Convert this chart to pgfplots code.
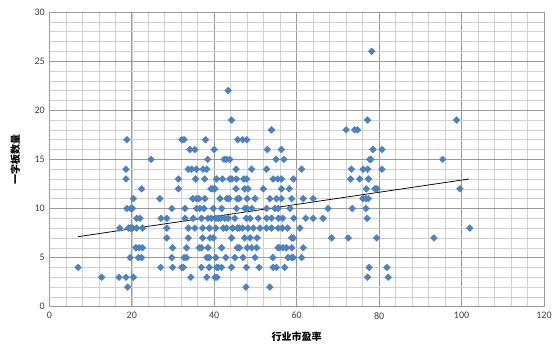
\documentclass[border=0pt]{standalone}
\usepackage{pgfplots}
\pgfplotsset{compat=1.18}
\usepackage{fontspec}
\setmainfont{Carlito}
\newfontfamily\cjk{Noto Sans CJK SC}
\definecolor{ptblue}{HTML}{4F81BD}
\definecolor{mingrid}{HTML}{D0D0D0}
\definecolor{majgrid}{HTML}{9A9A9A}
\begin{document}
\begin{tikzpicture}
\useasboundingbox (-49.3pt,-42.3pt) rectangle (508.7pt,306.7pt);
\begin{axis}[
  at={(0,0)}, anchor=south west,
  scale only axis, width=494.7pt, height=294.7pt,
  xmin=0, xmax=120, ymin=0, ymax=30,
  xtick={0,20,...,120}, ytick={0,5,...,30},
  minor xtick={0,4,...,120}, minor ytick={0,1,...,30},
  grid=both,
  minor grid style={mingrid, line width=0.5pt},
  major grid style={majgrid, line width=0.8pt},
  axis line style={majgrid, line width=0.8pt},
  tick style={draw=none},
  /pgf/number format/assume math mode=true,
  tick label style={font=\fontsize{10}{12}\selectfont, text=black!75},
  xticklabel style={yshift=-2pt},
  yticklabel style={xshift=-1pt},
  xlabel={\cjk\bfseries 行业市盈率},
  ylabel={\cjk\bfseries 一字板数量},
  label style={font=\fontsize{10.5}{12}\selectfont},
  every axis x label/.style={at={(axis description cs:0.5,0)}, anchor=center, yshift=-30pt},
  every axis y label/.style={at={(axis description cs:-0.0687,0.5)}, anchor=center, rotate=90},
]
\addplot[only marks, mark=square*, mark size=2.4pt, mark options={rotate=45, fill=ptblue, draw=ptblue}] coordinates {
(78.2,26)
(43.4,22)
(44.2,19) (77.2,19) (98.8,19)
(53.9,18) (72.0,18) (74.1,18) (74.8,18)
(18.8,17) (32.1,17) (32.7,17) (37.9,17) (45.7,17) (46.9,17) (47.9,17)
(34.1,16) (35.3,16) (40.0,16) (52.9,16) (56.3,16) (78.5,16) (80.7,16)
(24.7,15) (38.4,15) (42.4,15) (43.0,15) (43.8,15) (55.0,15) (56.9,15) (77.7,15) (78.0,15) (95.4,15)
(18.6,14) (33.7,14) (34.5,14) (35.7,14) (37.3,14) (38.2,14) (45.3,14) (49.1,14) (52.7,14) (61.2,14) (73.3,14) (76.1,14) (77.2,14) (80.7,14)
(18.6,13) (31.3,13) (35.5,13) (37.7,13) (40.6,13) (42.0,13) (43.8,13) (44.3,13) (45.4,13) (47.2,13) (47.9,13) (54.3,13) (55.4,13) (56.3,13) (59.2,13) (73.1,13) (75.3,13) (77.4,13)
(22.4,12) (31.3,12) (39.2,12) (39.7,12) (40.2,12) (45.3,12) (47.4,12) (48.2,12) (51.9,12) (56.3,12) (58.2,12) (76.9,12) (79.0,12) (79.5,12) (99.6,12)
(20.4,11) (26.8,11) (34.8,11) (35.7,11) (36.3,11) (37.7,11) (41.4,11) (43.1,11) (43.6,11) (45.6,11) (46.1,11) (48.0,11) (49.9,11) (53.5,11) (55.1,11) (56.3,11) (58.8,11) (61.6,11) (64.0,11) (76.1,11) (76.8,11) (77.4,11)
(18.8,10) (19.7,10) (20.2,10) (29.7,10) (32.9,10) (35.7,10) (36.5,10) (37.5,10) (39.8,10) (41.8,10) (45.4,10) (47.4,10) (48.0,10) (49.1,10) (52.7,10) (54.7,10) (55.5,10) (58.4,10) (67.6,10) (73.5,10) (76.8,10)
(21.2,9) (22.0,9) (27.1,9) (28.5,9) (32.9,9) (34.9,9) (36.9,9) (38.5,9) (39.3,9) (40.4,9) (41.0,9) (41.6,9) (42.6,9) (43.4,9) (45.0,9) (47.8,9) (48.7,9) (50.7,9) (52.7,9) (53.9,9) (55.6,9) (56.6,9) (59.3,9) (62.2,9) (64.0,9) (66.4,9) (77.1,9)
(17.1,8) (19.2,8) (19.7,8) (20.2,8) (21.2,8) (22.6,8) (28.5,8) (33.7,8) (35.3,8) (37.2,8) (38.8,8) (40.4,8) (42.2,8) (43.0,8) (44.5,8) (45.6,8) (46.1,8) (46.9,8) (48.2,8) (49.5,8) (51.1,8) (52.7,8) (53.9,8) (55.5,8) (56.5,8) (57.8,8) (60.8,8) (102.0,8)
(28.5,7) (33.7,7) (37.2,7) (39.0,7) (39.8,7) (44.2,7) (47.4,7) (48.7,7) (50.4,7) (58.8,7) (59.2,7) (68.5,7) (72.5,7) (79.4,7) (93.3,7)
(21.0,6) (21.8,6) (22.6,6) (29.9,6) (33.3,6) (36.4,6) (36.9,6) (38.5,6) (41.8,6) (45.6,6) (46.1,6) (48.0,6) (49.1,6) (50.3,6) (55.5,6) (55.9,6) (56.7,6) (57.5,6) (58.8,6) (61.6,6)
(19.6,5) (21.6,5) (22.4,5) (29.7,5) (32.7,5) (33.3,5) (38.2,5) (38.8,5) (40.4,5) (42.8,5) (45.0,5) (47.0,5) (49.9,5) (54.2,5) (57.9,5) (58.8,5) (59.2,5) (61.2,5)
(7.0,4) (27.0,4) (29.9,4) (32.1,4) (32.5,4) (36.9,4) (38.8,4) (40.6,4) (41.0,4) (41.8,4) (44.2,4) (47.8,4) (50.9,4) (54.3,4) (55.1,4) (57.1,4) (77.6,4) (81.9,4)
(12.7,3) (16.9,3) (18.6,3) (20.4,3) (34.3,3) (38.2,3) (40.2,3) (40.7,3) (77.2,3) (82.2,3)
(19.0,2) (47.7,2) (53.5,2)
};
\addplot[black, line width=0.75pt] coordinates {(7,7.13) (101.8,13.0)};
\end{axis}
\end{tikzpicture}
\end{document}
